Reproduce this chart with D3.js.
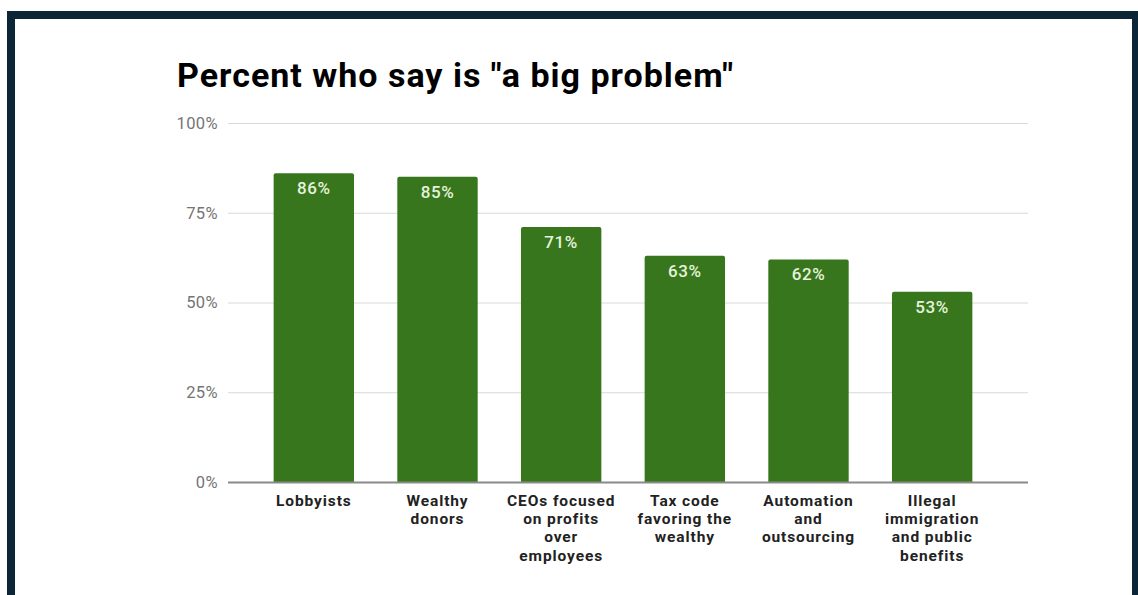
<!DOCTYPE html>
<html>
<head>
<meta charset="utf-8">
<script src="https://cdn.jsdelivr.net/npm/d3@7/dist/d3.min.js"></script>
<style>
  html, body { margin: 0; padding: 0; background: #fff; }
  svg { display: block; }
</style>
</head>
<body>
<svg id="chart" width="1138" height="595"></svg>
<script>
const categories = [
  ["Lobbyists"],
  ["Wealthy", "donors"],
  ["CEOs focused", "on profits", "over", "employees"],
  ["Tax code", "favoring the", "wealthy"],
  ["Automation", "and", "outsourcing"],
  ["Illegal", "immigration", "and public", "benefits"]
];
const values = [86, 85, 71, 63, 62, 53];
const yTicks = [0, 25, 50, 75, 100];
const titleText = 'Percent who say is "a big problem"';

const svg = d3.select("#chart");
const W = 1138, H = 595;

// frame
svg.append("rect").attr("x", 0).attr("y", 0).attr("width", W).attr("height", H).attr("fill", "#fff");
svg.append("path")
  .attr("d", `M7,595 V11 H1138 V595 H1132 V19 H15 V595 Z`)
  .attr("fill", "#0c2537");

const x = d3.scaleBand()
  .domain(d3.range(values.length))
  .range([252, 994])
  .paddingInner(0.35)
  .paddingOuter(0.175);

const y = d3.scaleLinear().domain([0, 100]).range([482, 123]);

const font = "Roboto, 'Noto Sans', sans-serif";

// title
svg.append("text")
  .attr("x", 177).attr("y", 87)
  .attr("font-family", font).attr("font-weight", 700)
  .attr("font-size", 34).attr("letter-spacing", 1).attr("fill", "#000")
  .text(titleText);

// gridlines
const grid = svg.append("g");
grid.selectAll("line").data(yTicks.filter(d => d > 0)).join("line")
  .attr("x1", 228).attr("x2", 1028)
  .attr("y1", d => y(d) + 0.5).attr("y2", d => y(d) + 0.5)
  .attr("stroke", "#d9d9d9").attr("stroke-width", 1);

// y axis labels
const yAxis = d3.axisLeft(y).tickValues(yTicks).tickSize(0).tickPadding(0).tickFormat(d => d + "%");
const yg = svg.append("g").attr("transform", "translate(218,0)").call(yAxis);
yg.select(".domain").remove();
yg.selectAll("text")
  .attr("font-family", font).attr("font-size", 16.5).attr("letter-spacing", 0.4).attr("fill", "#757575");

// bars
svg.append("g").selectAll("path").data(values).join("path")
  .attr("d", (d, i) => {
    const x0 = x(i), w = x.bandwidth(), y0 = y(d), b = y(0), r = 2;
    return `M${x0},${b} V${y0 + r} Q${x0},${y0} ${x0 + r},${y0} H${x0 + w - r} Q${x0 + w},${y0} ${x0 + w},${y0 + r} V${b} Z`;
  })
  .attr("fill", "#38761d");

// value labels
svg.append("g").selectAll("text").data(values).join("text")
  .attr("x", (d, i) => x(i) + x.bandwidth() / 2)
  .attr("y", d => y(d) + 21)
  .attr("text-anchor", "middle")
  .attr("font-family", font).attr("font-weight", 500)
  .attr("font-size", 17).attr("letter-spacing", 0.6).attr("fill", "#e6f2dc")
  .text(d => d + "%");

// baseline
svg.append("line")
  .attr("x1", 228).attr("x2", 1028)
  .attr("y1", y(0) + 0.5).attr("y2", y(0) + 0.5)
  .attr("stroke", "#8a8a8a").attr("stroke-width", 2);

// x labels
const xl = svg.append("g").selectAll("text").data(categories).join("text")
  .attr("x", (d, i) => x(i) + x.bandwidth() / 2)
  .attr("y", 506)
  .attr("text-anchor", "middle")
  .attr("font-family", font).attr("font-weight", 700)
  .attr("font-size", 15.5).attr("letter-spacing", 0.9).attr("fill", "#222");
xl.selectAll("tspan").data(d => d).join("tspan")
  .attr("x", function () { return this.parentNode.getAttribute("x"); })
  .attr("dy", (d, j) => j === 0 ? 0 : 18.2)
  .text(d => d);
</script>
</body>
</html>
